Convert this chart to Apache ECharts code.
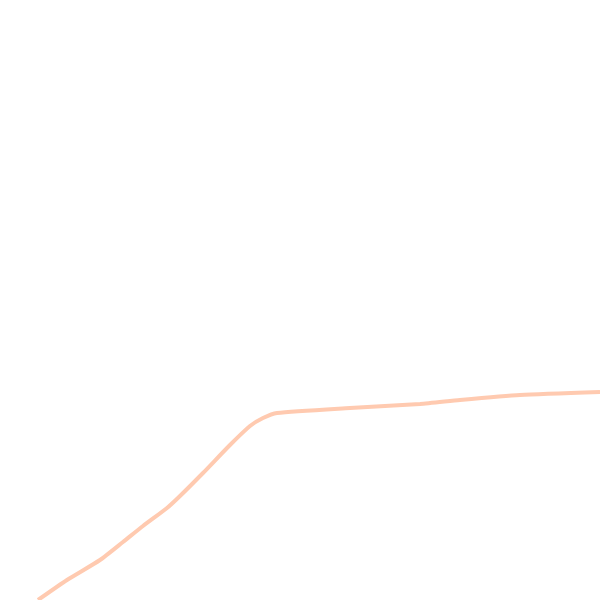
<!DOCTYPE html>
<html>
<head>
<meta charset="utf-8">
<script src="https://cdn.jsdelivr.net/npm/echarts@6/dist/echarts.min.js"></script>
<style>
  html, body { margin: 0; padding: 0; background: #fff; }
  #chart { width: 600px; height: 600px; }
</style>
</head>
<body>
<div id="chart"></div>
<script>
// values (x across, y up from the bottom edge)
var xValues = [38, 67, 100, 123, 143, 167, 180, 203, 230, 250, 263, 277, 350, 420, 460, 520, 600];
var yValues = [0, 20, 40, 58, 74, 92, 104, 127, 155, 174, 182, 187, 192, 196, 200, 205, 208];

var points = xValues.map(function(x, i) {
  return [x, yValues[i]];
});

var myChart = echarts.init(document.getElementById('chart'));

var option = {
  animation: false,
  grid: { left: 0, right: 0, top: 0, bottom: 0 },
  xAxis: { type: 'value', min: 0, max: 600, show: false },
  yAxis: { type: 'value', min: 0, max: 600, show: false },
  series: [
    {
      type: 'line',
      data: points,
      showSymbol: false,
      smooth: 0.2,
      lineStyle: { color: '#ffcab0', width: 4 },
    },
  ],
};

myChart.setOption(option);
</script>
</body>
</html>
